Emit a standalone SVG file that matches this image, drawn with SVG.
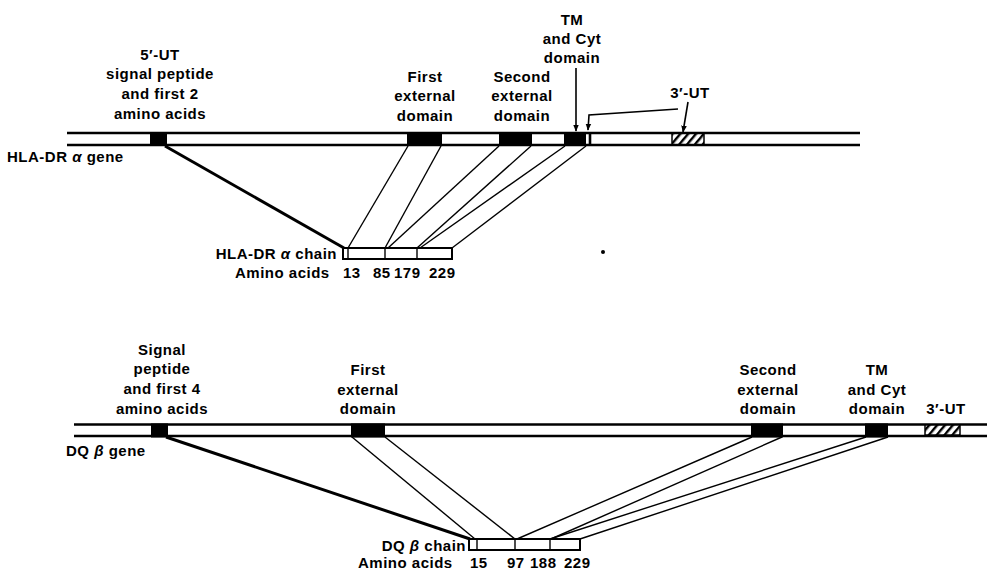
<svg xmlns="http://www.w3.org/2000/svg" width="987" height="575" viewBox="0 0 987 575">
<defs>
<style>
text{font-family:"Liberation Sans",Arial,sans-serif;font-weight:bold;font-size:15px;letter-spacing:0.5px;fill:#000}
.m{text-anchor:middle}
.e{text-anchor:end}
.gl{stroke:#000;stroke-width:2.6;fill:none}
.ex{fill:#000}
.ch{fill:#fff;stroke:#000;stroke-width:2}
.cn{stroke:#000;stroke-width:1.4;fill:none}
.thick{stroke:#000;stroke-width:3;fill:none}
.ar{stroke:#000;stroke-width:1.6;fill:none}
</style>
<pattern id="hatch" patternUnits="userSpaceOnUse" width="6" height="6" patternTransform="rotate(40)">
<rect width="6" height="6" fill="#fff"/>
<rect width="2.4" height="6" fill="#000"/>
</pattern>
<marker id="ah" viewBox="0 0 10 10" refX="9" refY="5" markerWidth="7" markerHeight="7" orient="auto-start-reverse" markerUnits="userSpaceOnUse">
<path d="M0,1 L10,5 L0,9 z" fill="#000"/>
</marker>
</defs>
<rect width="987" height="575" fill="#fff"/>

<!-- HLA-DR alpha gene -->
<g id="dra-gene">
<line class="gl" x1="67" y1="133" x2="860" y2="133"/>
<line class="gl" x1="67" y1="145" x2="860" y2="145"/>
<rect class="ex" x="150" y="132" width="17" height="14"/>
<rect class="ex" x="407" y="132" width="35" height="14"/>
<rect class="ex" x="499" y="132" width="33" height="14"/>
<rect class="ex" x="564" y="132" width="22" height="14"/>
<line class="gl" x1="590" y1="132" x2="590" y2="146"/>
<rect x="672" y="133.5" width="32" height="11" fill="url(#hatch)" stroke="#000" stroke-width="1.5"/>
<text x="7" y="162">HLA-DR <tspan font-style="italic">α</tspan> gene</text>
</g>
<g id="dra-label-5ut">
<text class="m" x="160" y="60">5′-UT</text>
<text class="m" x="160" y="79">signal peptide</text>
<text class="m" x="160" y="99">and first 2</text>
<text class="m" x="160" y="119">amino acids</text>
</g>
<g id="dra-label-ext1">
<text class="m" x="425" y="82">First</text>
<text class="m" x="425" y="101">external</text>
<text class="m" x="425" y="121">domain</text>
</g>
<g id="dra-label-ext2">
<text class="m" x="522" y="82">Second</text>
<text class="m" x="522" y="101">external</text>
<text class="m" x="522" y="121">domain</text>
</g>
<g id="dra-label-tm">
<text class="m" x="572" y="25">TM</text>
<text class="m" x="572" y="44">and Cyt</text>
<text class="m" x="572" y="63">domain</text>
</g>
<g id="dra-label-3ut">
<text class="m" x="690" y="98">3′-UT</text>
</g>

<!-- HLA-DR alpha chain -->
<g id="dra-chain">
<rect class="ch" x="343" y="248" width="109" height="11"/>
<line class="cn" x1="348" y1="248" x2="348" y2="259" stroke-width="2"/>
<line class="cn" x1="385" y1="248" x2="385" y2="259" stroke-width="2"/>
<line class="cn" x1="417" y1="248" x2="417" y2="259" stroke-width="2"/>
<text class="e" x="337" y="259">HLA-DR <tspan font-style="italic">α</tspan> chain</text>
<text x="235" y="278">Amino acids</text>
<text x="343" y="278">13</text>
<text x="373" y="278">85</text>
<text x="394" y="278">179</text>
<text x="429" y="278">229</text>
</g>
<circle cx="603" cy="252" r="2" fill="#000"/>

<!-- DQ beta gene -->
<g id="dqb-gene">
<line class="gl" x1="74" y1="424.5" x2="987" y2="424.5"/>
<line class="gl" x1="74" y1="436" x2="987" y2="436"/>
<rect class="ex" x="151" y="423.5" width="17" height="14"/>
<rect class="ex" x="351" y="423.5" width="34" height="14"/>
<rect class="ex" x="751" y="423.5" width="32" height="14"/>
<rect class="ex" x="865" y="423.5" width="23" height="14"/>
<rect x="925" y="425" width="35" height="10" fill="url(#hatch)" stroke="#000" stroke-width="1.5"/>
<text x="66" y="456">DQ <tspan font-style="italic">β</tspan> gene</text>
</g>
<g id="dqb-label-signal">
<text class="m" x="162" y="355">Signal</text>
<text class="m" x="162" y="374">peptide</text>
<text class="m" x="162" y="394">and first 4</text>
<text class="m" x="162" y="414">amino acids</text>
</g>
<g id="dqb-label-ext1">
<text class="m" x="368" y="375">First</text>
<text class="m" x="368" y="395">external</text>
<text class="m" x="368" y="414">domain</text>
</g>
<g id="dqb-label-ext2">
<text class="m" x="768" y="375">Second</text>
<text class="m" x="768" y="395">external</text>
<text class="m" x="768" y="414">domain</text>
</g>
<g id="dqb-label-tm">
<text class="m" x="877" y="375">TM</text>
<text class="m" x="877" y="395">and Cyt</text>
<text class="m" x="877" y="414">domain</text>
</g>
<g id="dqb-label-3ut">
<text class="m" x="946" y="414">3′-UT</text>
</g>

<!-- DQ beta chain -->
<g id="dqb-chain">
<rect class="ch" x="469" y="539" width="111" height="11"/>
<line class="cn" x1="477" y1="539" x2="477" y2="550" stroke-width="2"/>
<line class="cn" x1="515" y1="539" x2="515" y2="550" stroke-width="2"/>
<line class="cn" x1="550" y1="539" x2="550" y2="550" stroke-width="2"/>
<text class="e" x="466" y="551">DQ <tspan font-style="italic">β</tspan> chain</text>
<text x="358" y="568">Amino acids</text>
<text x="470" y="568">15</text>
<text x="507" y="568">97</text>
<text x="530" y="568">188</text>
<text x="564" y="568">229</text>
</g>

<!-- connectors -->
<g id="connectors">
<line class="thick" x1="165" y1="146" x2="344" y2="248"/>
<line class="cn" x1="408" y1="146" x2="348" y2="248"/>
<line class="cn" x1="441" y1="146" x2="385" y2="248"/>
<line class="cn" x1="499" y1="146" x2="388" y2="248"/>
<line class="cn" x1="531" y1="146" x2="417" y2="248"/>
<line class="cn" x1="565" y1="146" x2="420" y2="248"/>
<line class="cn" x1="586" y1="146" x2="452" y2="248"/>
<line class="ar" x1="576" y1="68" x2="576" y2="131" marker-end="url(#ah)"/>
<polyline class="ar" points="678,109 589,115 588,130" marker-end="url(#ah)"/>
<line class="ar" x1="688" y1="102" x2="683" y2="132" marker-end="url(#ah)"/>

<line class="thick" x1="166" y1="437" x2="470" y2="539"/>
<line class="cn" x1="352" y1="437" x2="475" y2="539"/>
<line class="cn" x1="385" y1="437" x2="515" y2="539"/>
<line class="cn" x1="752" y1="437" x2="517" y2="539"/>
<line class="cn" x1="782" y1="437" x2="551" y2="539"/>
<line class="cn" x1="866" y1="437" x2="550" y2="539"/>
<line class="cn" x1="888" y1="437" x2="580" y2="539"/>
</g>
</svg>
